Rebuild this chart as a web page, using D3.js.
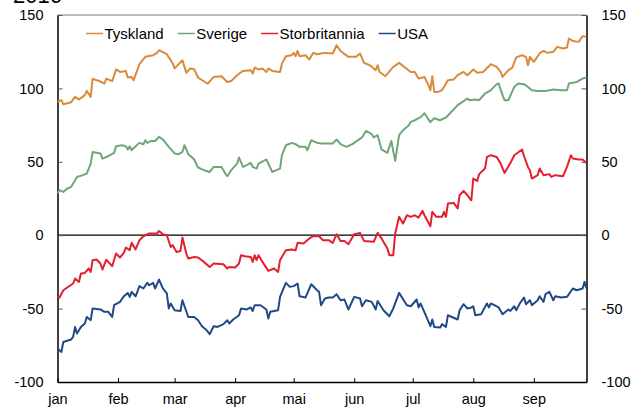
<!DOCTYPE html>
<html>
<head>
<meta charset="utf-8">
<script src="https://cdn.jsdelivr.net/npm/d3@7"></script>
<style>
  body { margin: 0; background: #fff; }
  svg { display: block; font-family: Arial, "Liberation Sans", sans-serif; }
</style>
</head>
<body>
<div id="chart"></div>
<script>
// series values as [day of year (0 = 1 Jan 2016), index value]
const tyskland = [[0,90.8],[2,92],[3,89.2],[7,90.6],[9,94.2],[11,92.4],[14,95.4],[15,98.3],[17,94.2],[18,106.5],[22,104.7],[24,103.3],[25,106.7],[28,104.9],[30,112.9],[32,111.2],[35,111.9],[36,107.4],[38,107.8],[39,105.6],[42,116.5],[45,121.5],[49,122.6],[51,124.2],[52,126],[56,123.3],[58,119.2],[59,117],[60,113.6],[64,119.2],[66,110.6],[68,113.6],[70,113.1],[72,107.4],[76,104],[77,103.3],[80,107.8],[84,108.3],[87,104.4],[89,105.1],[92,109],[95,111.9],[99,112.4],[100,110.1],[101,114.2],[103,112.9],[105,113.6],[107,111.2],[108,113.6],[110,111.9],[114,111.2],[115,117],[117,121.9],[120,122.6],[121,124.2],[122,121.9],[123,125.5],[124,121.9],[127,122.6],[129,119.7],[131,124.2],[133,123.3],[135,123.8],[137,124.2],[141,123.8],[143,129.4],[145,125.5],[149,121.5],[153,121.5],[155,123.8],[157,117.4],[160,115.8],[163,112.4],[164,115.8],[165,111.2],[168,108.3],[172,114.6],[175,117.4],[181,111.2],[183,111.2],[185,106.7],[188,107.8],[190,102.2],[191,98.8],[192,108.3],[193,97.6],[195,97.6],[197,98.8],[200,105.6],[203,106.1],[205,109],[208,111.2],[210,109],[213,112.9],[215,110.6],[218,111.2],[222,116.5],[225,114.6],[227,111.2],[228,107.8],[231,112.4],[233,114.2],[235,121.1],[238,122.6],[240,121.5],[241,115.8],[242,121.5],[244,118.1],[247,123.8],[249,125.5],[251,124.2],[254,124.9],[256,128.3],[259,127.2],[261,127.9],[262,134],[264,132.3],[267,131.7],[269,135.6],[271,135.1]];

const sverige = [[0,28.4],[1,30.7],[3,29.5],[5,31.8],[7,32.9],[8,35.2],[10,39.7],[13,40.9],[15,42],[17,48.8],[18,56.7],[22,55.7],[23,52.2],[26,53.8],[29,56.1],[30,60.6],[33,61.3],[35,60.6],[36,58.4],[37,60.6],[38,57.9],[40,60.6],[42,62.9],[44,62],[45,64.7],[46,62.9],[48,64.2],[50,64.2],[52,67],[54,65.2],[57,60.2],[60,55.7],[62,55.2],[64,56.7],[65,61.3],[66,58.4],[67,55.2],[69,52.9],[70,51.6],[72,46.1],[75,44.3],[78,43.1],[80,46.5],[84,46.5],[86,42],[87,40.2],[89,44.3],[92,48.8],[93,52.9],[95,46.5],[97,47.7],[99,49.2],[100,46.5],[102,45.4],[103,48.8],[107,51.6],[110,43.1],[114,45.4],[115,54.5],[117,61.3],[120,62.9],[122,62],[124,60.2],[127,60.2],[128,57.9],[130,64.7],[133,62.9],[135,62.5],[139,62.5],[141,62.5],[143,65.2],[145,62],[148,60.2],[151,62],[152,62.9],[156,66.6],[158,71],[161,68.8],[162,66.6],[164,68.1],[166,58.4],[169,56.1],[171,64.2],[173,50.6],[175,68.1],[177,71.5],[180,74.9],[181,77.2],[183,78.3],[186,80.4],[188,83.1],[191,77],[193,79.7],[196,78.3],[199,80.2],[201,82.9],[205,88.6],[210,93.1],[211,92],[214,92.4],[216,92],[219,96.5],[222,98.8],[225,102.9],[226,103.3],[228,95.4],[229,92],[231,92],[234,101],[236,103.3],[239,102.9],[241,101],[243,98.8],[246,98.3],[250,98.3],[254,99.3],[258,98.8],[261,98.8],[262,103.3],[266,104.4],[269,106.7],[271,107.4]];

const storbritannia = [[0,-41.6],[1,-42.5],[3,-37.5],[5,-35.6],[8,-32.9],[9,-29.5],[11,-31.8],[12,-26.1],[14,-25.7],[16,-22.7],[17,-25],[18,-17],[20,-16.6],[22,-19.3],[23,-23.4],[25,-16.6],[28,-21.1],[30,-12.5],[32,-15.2],[34,-12],[35,-8.4],[37,-10.2],[38,-5.2],[40,-9.7],[42,-3.4],[44,-0.7],[47,1.2],[51,1.2],[52,2.9],[54,0.7],[56,0],[58,-8],[59,-6.8],[61,-11.4],[63,-10.7],[64,-1.6],[66,-12.5],[67,-15.9],[70,-14.8],[72,-15.2],[75,-18.2],[78,-21.6],[80,-19.3],[85,-19.8],[87,-22.7],[88,-21.6],[91,-22],[93,-19.3],[94,-13.6],[96,-14.3],[99,-14.8],[100,-18.2],[101,-13.6],[102,-17],[103,-13.6],[105,-18.2],[108,-24.3],[111,-22.7],[113,-25],[114,-17],[117,-10.2],[120,-9.7],[122,-10.2],[123,-5.2],[126,-5.7],[129,-2.2],[131,-0.7],[134,-0.7],[136,-3.4],[139,-3.4],[141,-5.2],[143,0.7],[145,-3.9],[147,-3.9],[149,-6.1],[152,0.7],[155,1.6],[157,-3.9],[162,-4.5],[164,1.6],[166,-2.2],[169,-9],[170,-13.6],[172,-13.6],[173,1.2],[175,12.5],[177,8],[179,13.6],[181,12.5],[183,13.6],[185,12],[187,16.6],[188,13.6],[191,6.1],[192,15.9],[194,12.5],[197,12.5],[198,15.9],[199,12.5],[200,21.6],[203,22],[205,18.2],[206,27.2],[208,30.2],[210,27.2],[212,23.8],[213,38.6],[215,37],[216,41.6],[219,45.4],[220,53.3],[222,54.5],[225,53.3],[227,48.8],[229,42.4],[232,49.2],[234,54.5],[238,58.4],[239,53.8],[241,46.5],[242,44.3],[243,38.6],[246,40.9],[247,45.4],[249,40.9],[252,41.6],[253,39.7],[255,40.9],[259,40.2],[261,46.5],[263,54.5],[264,52.2],[267,51.6],[269,51.6],[271,49.2]];

const usa = [[0,-77.2],[2,-79.5],[3,-72.7],[7,-71],[8,-69.3],[9,-62.5],[10,-67],[12,-62.5],[14,-60.1],[15,-55.7],[17,-57.9],[18,-49.9],[22,-50.6],[24,-52.2],[26,-52.2],[28,-55.7],[29,-47.7],[32,-45.4],[34,-41.6],[36,-39.3],[37,-42],[38,-38.6],[40,-41.6],[42,-34.7],[44,-36.3],[46,-32.5],[47,-34.1],[49,-32.5],[50,-36.3],[52,-30.2],[54,-36.3],[56,-39.7],[57,-49.9],[58,-46.5],[60,-51.1],[63,-51.6],[64,-44.3],[67,-55.7],[70,-55.7],[72,-57.9],[74,-62],[76,-64.2],[78,-67.4],[80,-62],[82,-62.5],[85,-60.6],[87,-57.9],[88,-60.1],[90,-57.4],[93,-54.5],[94,-49.9],[97,-50.6],[99,-49.2],[100,-51.6],[101,-47.7],[104,-47.7],[107,-50.6],[108,-56.7],[109,-52.2],[113,-51.1],[114,-42],[117,-32.5],[119,-35.2],[121,-34.7],[123,-32.9],[124,-41.6],[127,-42.5],[130,-33.4],[133,-37.5],[134,-38.6],[135,-47.7],[137,-43.1],[139,-42.5],[141,-42.5],[143,-40.2],[145,-44.3],[147,-43.8],[149,-50.6],[152,-42],[155,-43.1],[156,-48.4],[158,-44.3],[161,-45.4],[163,-50.6],[164,-44.8],[167,-51.1],[170,-55.2],[172,-49.9],[175,-39.3],[179,-47.7],[181,-48.4],[184,-43.8],[185,-49.2],[186,-46.5],[189,-55.7],[191,-62],[192,-57.4],[193,-62.5],[196,-62.9],[197,-60.6],[199,-62.5],[200,-54.5],[202,-55.7],[205,-57.4],[206,-51.1],[208,-47],[210,-49.9],[212,-49.2],[213,-48.4],[214,-54.5],[217,-53.8],[220,-46.5],[221,-49.2],[222,-46.5],[226,-49.2],[228,-53.8],[231,-50.6],[232,-51.6],[234,-48.4],[235,-51.1],[237,-46.1],[239,-42.5],[240,-47],[242,-44.3],[243,-47.7],[246,-44.3],[247,-41.6],[249,-45.4],[250,-40.2],[252,-38.6],[254,-44.3],[255,-41.6],[258,-42.5],[261,-42],[264,-36.3],[266,-37.5],[269,-36.3],[270,-31.8],[271,-36.3]];

const seriesNames = ["Tyskland", "Sverige", "Storbritannia", "USA"];
const seriesColors = ["#d98b3c", "#70a778", "#e2202f", "#1f4a87"];
const monthLabels = ["jan", "feb", "mar", "apr", "mai", "jun", "jul", "aug", "sep"];
const yTicks = [-100, -50, 0, 50, 100, 150];

const start = new Date(Date.UTC(2016, 0, 1));
const toDate = d => d3.utcDay.offset(start, d);

// dimensions
const width = 644;
const height = 409;
const marginTop = 15;
const marginRight = 57.5;
const marginBottom = 27;
const marginLeft = 57.5;

const x = d3.scaleUtc()
    .domain([start, new Date(Date.UTC(2016, 8, 28))])
    .range([marginLeft, width - marginRight]);

const y = d3.scaleLinear()
    .domain([-100, 150])
    .range([height - marginBottom, marginTop]);

const svg = d3.create("svg")
    .attr("width", width)
    .attr("height", height)
    .attr("viewBox", [0, 0, width, height]);

// attach early so text can be measured for the legend
document.getElementById("chart").appendChild(svg.node());

// cut-off year label at the very top
svg.append("text")
    .attr("x", 13)
    .attr("y", 3)
    .attr("font-size", 22)
    .text("2016");

// top frame line
svg.append("line")
    .attr("x1", marginLeft).attr("x2", width - marginRight)
    .attr("y1", marginTop).attr("y2", marginTop)
    .attr("stroke", "#7f7f7f")
    .attr("stroke-width", 1.2);

// zero line
svg.append("line")
    .attr("x1", marginLeft).attr("x2", width - marginRight)
    .attr("y1", y(0)).attr("y2", y(0))
    .attr("stroke", "#000")
    .attr("stroke-width", 1.2);

function styleAxis(g) {
    g.attr("font-size", 14.5)
     .attr("font-family", "Arial, 'Liberation Sans', sans-serif");
    g.select(".domain").attr("stroke", "#000").attr("stroke-width", 1.5);
    g.selectAll(".tick line").attr("stroke", "#555");
    g.selectAll(".tick text").attr("fill", "#000");
}

// plain hyphen for negatives, like the original
const fmt = d => String(d);

// left axis
svg.append("g")
    .attr("transform", `translate(${marginLeft},0)`)
    .call(d3.axisLeft(y).tickValues(yTicks).tickFormat(fmt).tickSize(-5).tickSizeOuter(0).tickPadding(14))
    .call(styleAxis);

// right axis
svg.append("g")
    .attr("transform", `translate(${width - marginRight},0)`)
    .call(d3.axisRight(y).tickValues(yTicks).tickFormat(fmt).tickSize(-5).tickSizeOuter(0).tickPadding(15))
    .call(styleAxis);

// bottom axis with month ticks
const monthTicks = d3.utcMonth.range(start, new Date(Date.UTC(2016, 8, 2)));
svg.append("g")
    .attr("transform", `translate(0,${height - marginBottom})`)
    .call(d3.axisBottom(x).tickValues(monthTicks).tickSize(-4).tickSizeOuter(0).tickPadding(12)
        .tickFormat((d, i) => monthLabels[i]))
    .call(styleAxis)
    .call(g => g.selectAll(".tick line").attr("stroke", "#000"));

// lines
const line = d3.line()
    .x(d => x(toDate(d[0])))
    .y(d => y(d[1]));

const allSeries = [tyskland, sverige, storbritannia, usa];
svg.append("g")
    .attr("fill", "none")
    .attr("stroke-width", 2)
    .attr("stroke-linejoin", "round")
    .selectAll("path")
    .data(allSeries)
    .join("path")
    .attr("stroke", (d, i) => seriesColors[i])
    .attr("d", line);

// legend
const legend = svg.append("g")
    .attr("font-size", 15)
    .attr("transform", "translate(86,33.5)");
let lx = 0;
seriesNames.forEach((name, i) => {
    const item = legend.append("g").attr("transform", `translate(${lx},0)`);
    item.append("line")
        .attr("x1", 0).attr("x2", 17)
        .attr("stroke", seriesColors[i])
        .attr("stroke-width", 1.5);
    const t = item.append("text")
        .attr("x", 18.5)
        .attr("dy", "0.35em")
        .text(name);
    lx += 18.5 + t.node().getComputedTextLength() + 14;
});
</script>
</body>
</html>
